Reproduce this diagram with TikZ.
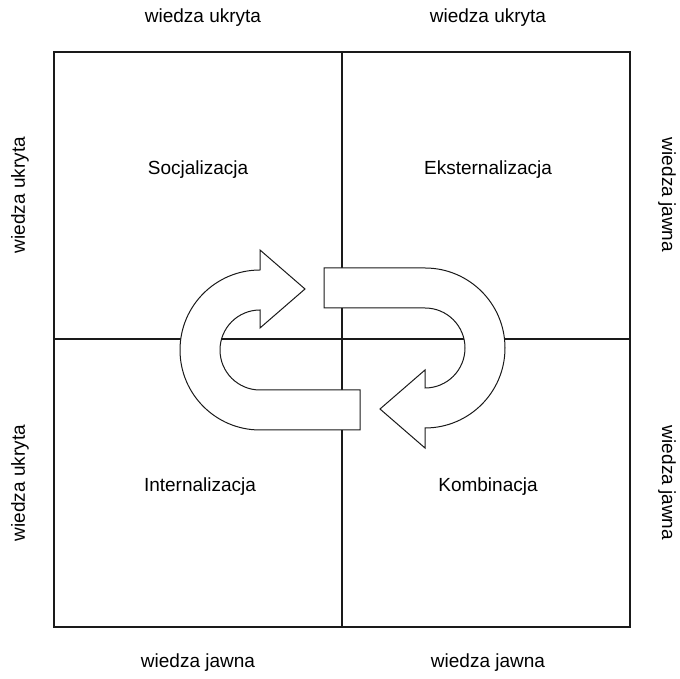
\documentclass[tikz,border=0pt]{standalone}
\usepackage{fontspec}
\setmainfont{Liberation Sans}
\usepackage{tikz}
\definecolor{gridline}{HTML}{1A1A1A}
\tikzset{
  quadrant/.style={draw=gridline,line width=1.3pt},
  turn arrow/.style={draw=gridline,fill=white,line width=1pt,line join=miter},
  mode/.style={font=\fontsize{19}{22}\selectfont,inner sep=0pt},
  side/.style={font=\fontsize{19}{22}\selectfont,inner sep=0pt}
}

\begin{document}
\begin{tikzpicture}[x=1pt,y=1pt]
  \useasboundingbox (0,0) rectangle (680,679);
  % the four fields
  \draw[quadrant] (54,52) rectangle (630,627);
  \draw[quadrant] (342,52) -- (342,627);
  \draw[quadrant] (54,340) -- (630,340);
  % socialisation -> externalisation
  \draw[turn arrow] (360,249) -- (260,249)
    arc[start angle=270,end angle=90,radius=80]
    -- (260,429) -- (305,390) -- (260,351) -- (260,369)
    arc[start angle=90,end angle=270,radius=40]
    -- (360,289) -- cycle;
  % combination -> internalisation
  \draw[turn arrow] (324,411) -- (425,411)
    arc[start angle=90,end angle=-90,radius=80]
    -- (425,231) -- (380,270) -- (425,309) -- (425,291)
    arc[start angle=-90,end angle=90,radius=40]
    -- (324,371) -- cycle;
  % field names
  \node[mode] (soc) at (198,509) {Socjalizacja};
  \node[mode] (ext) at (488,509) {Eksternalizacja};
  \node[mode] (int) at (200,192) {Internalizacja};
  \node[mode] (kom) at (488,192) {Kombinacja};
  % edges of the square
  \node[side] (top left) at (203,661) {wiedza ukryta};
  \node[side] (top right) at (488,661) {wiedza ukryta};
  \node[side] (bottom left) at (198,16) {wiedza jawna};
  \node[side] (bottom right) at (488,16) {wiedza jawna};
  \node[side,rotate=90] (left top) at (20,484) {wiedza ukryta};
  \node[side,rotate=90] (left bottom) at (20,196) {wiedza ukryta};
  \node[side,rotate=-90] (right top) at (667,484) {wiedza jawna};
  \node[side,rotate=-90] (right bottom) at (667,196) {wiedza jawna};
\end{tikzpicture}
\end{document}
